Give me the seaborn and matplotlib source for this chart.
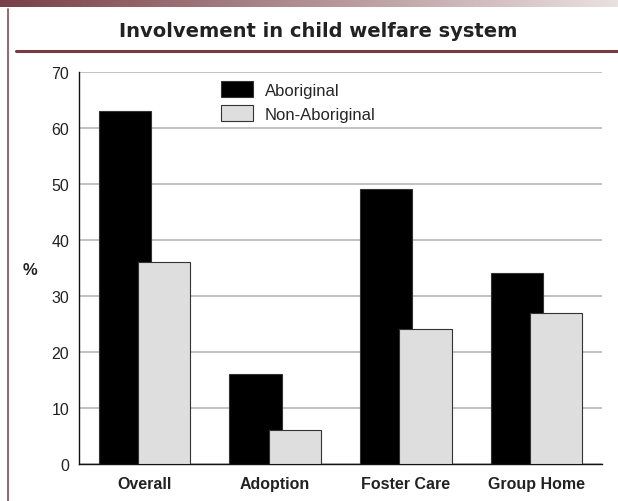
import numpy as np
import pandas as pd
import matplotlib
matplotlib.use("Agg")
import matplotlib.pyplot as plt
import seaborn as sns
from matplotlib.lines import Line2D
from matplotlib.patches import Patch

categories = ["Overall", "Adoption", "Foster Care", "Group Home"]
aboriginal = [63, 16, 49, 34]
non_aboriginal = [36, 6, 24, 27]
groups = ["Aboriginal", "Non-Aboriginal"]
yticks = [0, 10, 20, 30, 40, 50, 60, 70]
title = "Involvement in child welfare system"

df = pd.DataFrame({
    "category": categories * 2,
    "group": [groups[0]] * len(categories) + [groups[1]] * len(categories),
    "value": aboriginal + non_aboriginal,
})

sns.set_style("white")
plt.rcParams["font.family"] = ["Liberation Sans", "DejaVu Sans"]

fig = plt.figure(figsize=(6.18, 5.02), dpi=100)
W, H = 618, 502

# top gradient band
band = fig.add_axes([0, 1 - 8 / H, 1, 8 / H])
grad = np.linspace(0, 1, 256)[None, :, None]
c0 = np.array([0.47, 0.25, 0.28])
c1 = np.array([0.92, 0.88, 0.88])
img = c0 * (1 - grad) + c1 * grad
band.imshow(img, aspect="auto", extent=[0, 1, 0, 1])
band.set_axis_off()

# decorative lines
fig.add_artist(Line2D([7.5 / W, 7.5 / W], [0, 1 - 10 / H], color="#8a4a52", lw=1.2))
fig.add_artist(Line2D([16 / W, 1], [1 - 52 / H, 1 - 52 / H], color="#7a3a42", lw=2.2))

fig.text(318.5 / W, 1 - 37 / H, title, ha="center", va="baseline",
         fontsize=14, fontweight="bold", color="#222222",
         fontfamily=["DejaVu Sans"])

ax = fig.add_axes([79 / W, 1 - 465 / H, (602 - 79) / W, (465 - 72.5) / H])
palette = {groups[0]: "#000000", groups[1]: "#dedede"}
sns.barplot(data=df, x="category", y="value", hue="group", order=categories,
            hue_order=groups, palette=palette, width=0.6, dodge=True,
            saturation=1, edgecolor="#333333", linewidth=0.8, ax=ax, legend=False)

for p in ax.patches:
    c = p.get_x() + p.get_width() / 2
    p.set_width(0.40)
    p.set_x(c - 0.20)
    p.set_zorder(3)

ax.set_xlim(-0.5, len(categories) - 0.5)
ax.set_ylim(0, 70)
ax.set_yticks(yticks)
ax.yaxis.grid(True, color="#b8b8b8", lw=1.2)
ax.set_axisbelow(True)
ax.tick_params(axis="y", length=0, labelsize=11.5, pad=7, labelcolor="#222222")
for lab in ax.get_yticklabels():
    lab.set_fontstretch("condensed")
ax.tick_params(axis="x", length=0, pad=9)
for lab in ax.get_xticklabels():
    lab.set_fontfamily(["Liberation Sans Narrow", "Liberation Sans", "DejaVu Sans"])
    lab.set_fontweight("bold")
    lab.set_fontsize(11.5)
    lab.set_color("#222222")
ax.set_xlabel("")
ax.set_ylabel("%", rotation=0, fontsize=12, fontweight="bold", color="#222222",
              va="center", ha="center")
ax.yaxis.set_label_coords((30 - 79) / 523, (465 - 271) / 392.5)
for s in ["top", "right"]:
    ax.spines[s].set_visible(False)
for s in ["left", "bottom"]:
    ax.spines[s].set_color("#111111")
    ax.spines[s].set_linewidth(1.0)

handles = [Patch(facecolor=palette[g], edgecolor="#333333", lw=0.8) for g in groups]
ax.legend(handles, groups, loc="upper left",
          bbox_to_anchor=((221 - 79) / 523, (465 - 82) / 392.5),
          frameon=False, fontsize=12, handlelength=1.92, handleheight=1.08,
          handletextpad=0.72, labelspacing=0.45, borderpad=0, borderaxespad=0)

fig.savefig("out.png", dpi=100)
